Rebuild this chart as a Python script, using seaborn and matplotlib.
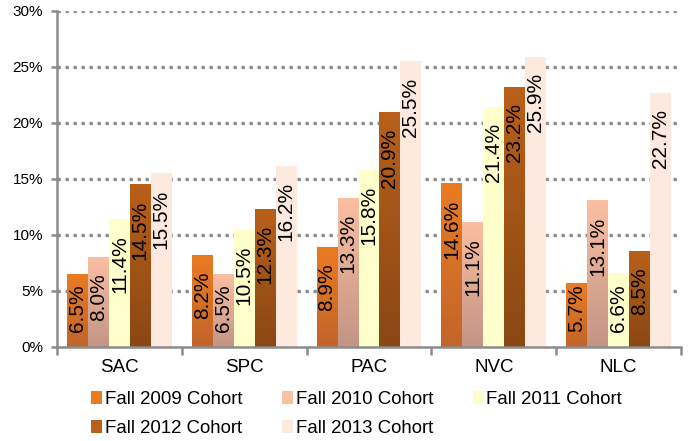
import numpy as np
import pandas as pd
import seaborn as sns
from matplotlib import pyplot as plt
from matplotlib.colors import LinearSegmentedColormap
from matplotlib.patches import Patch
from matplotlib.ticker import FixedLocator, PercentFormatter

colleges = ["SAC", "SPC", "PAC", "NVC", "NLC"]
cohorts = ["Fall 2009 Cohort", "Fall 2010 Cohort", "Fall 2011 Cohort",
           "Fall 2012 Cohort", "Fall 2013 Cohort"]
fall_2009 = [6.5, 8.2, 8.9, 14.6, 5.7]
fall_2010 = [8.0, 6.5, 13.3, 11.1, 13.1]
fall_2011 = [11.4, 10.5, 15.8, 21.4, 6.6]
fall_2012 = [14.5, 12.3, 20.9, 23.2, 8.5]
fall_2013 = [15.5, 16.2, 25.5, 25.9, 22.7]
y_ticks = [0, 5, 10, 15, 20, 25, 30]

# (top colour, bottom colour) per cohort, flat ones have the same twice
fills = [("#EA7B22", "#C2652A"),
         ("#FBBFA2", "#C39484"),
         ("#FFFFCC", "#FFFFCC"),
         ("#B9601A", "#8A4714"),
         ("#FDE9DD", "#FDE9DD")]

df = pd.DataFrame({
    "college": colleges * 5,
    "cohort": [c for c in cohorts for _ in colleges],
    "rate": fall_2009 + fall_2010 + fall_2011 + fall_2012 + fall_2013,
})

plt.rcParams["font.family"] = ["Liberation Sans", "DejaVu Sans"]
grey = "#8C8C8C"

fig = plt.figure(figsize=(6.88, 4.41), dpi=100)
ax = fig.add_axes([57 / 688, 1 - 347 / 441, 624 / 688, 336 / 441])

sns.barplot(data=df, x="college", y="rate", hue="cohort", order=colleges,
            hue_order=cohorts, palette=[f[0] for f in fills], saturation=1,
            width=0.84, linewidth=0, legend=False, ax=ax, zorder=2)

ax.set_xlim(-0.5, 4.5)
ax.set_ylim(0, 30)

# gradient fills clipped to each bar
ramp = np.linspace(0, 1, 256).reshape(-1, 1)
for cont, (top, bottom) in zip(ax.containers, fills):
    if top == bottom:
        continue
    cmap = LinearSegmentedColormap.from_list("g", [bottom, top])
    for bar in cont:
        x0, w, h = bar.get_x(), bar.get_width(), bar.get_height()
        ax.imshow(ramp, cmap=cmap, origin="lower", aspect="auto",
                  extent=[x0, x0 + w, 0, h], zorder=2.1, clip_path=bar)
ax.set_xlim(-0.5, 4.5)
ax.set_ylim(0, 30)

# value labels: 16 px below the bar end, but kept 15 px above the baseline
fig.canvas.draw()
renderer = fig.canvas.get_renderer()
base_px = ax.transData.transform((0, 0))[1]
for cont in ax.containers:
    for bar in cont:
        h = bar.get_height()
        xc = bar.get_x() + bar.get_width() / 2
        t = ax.annotate(f"{h:.1f}%", (xc, h), xytext=(0, -16),
                        textcoords="offset pixels", rotation=90,
                        ha="center", va="top", fontsize=15, zorder=3)
        bb = t.get_window_extent(renderer)
        if bb.y0 < base_px + 15:
            top_px = ax.transData.transform((0, h))[1]
            shift = (base_px + 15) - bb.y0
            t.set_position((0, -16 + min(shift, 16)))

# axes styling
ax.set_xlabel("")
ax.set_ylabel("")
ax.yaxis.set_major_locator(FixedLocator(y_ticks))
ax.yaxis.set_major_formatter(PercentFormatter(decimals=0))
for y in y_ticks[1:]:
    ax.axhline(y, color=grey, lw=2.4, ls=(0, (1, 1.4)), zorder=1)

for s in ["top", "right"]:
    ax.spines[s].set_visible(False)
for s in ["left", "bottom"]:
    ax.spines[s].set_color(grey)
    ax.spines[s].set_linewidth(1.8)
ax.spines["bottom"].set_zorder(4)

ax.tick_params(axis="y", length=4, width=1.8, color=grey, labelsize=11, pad=6)
ax.tick_params(axis="x", which="major", length=0, labelsize=13.5, pad=9)
ax.xaxis.set_minor_locator(FixedLocator(np.arange(-0.5, 5, 1)))
ax.tick_params(axis="x", which="minor", length=6, width=1.8, color=grey)

# legend: two rows, three columns
handles = [Patch(facecolor=f[0], edgecolor="none") for f in fills]
order = [0, 3, 1, 4, 2]
fig.legend([handles[i] for i in order], [cohorts[i] for i in order],
           loc="upper left", bbox_to_anchor=(82 / 688, 1 - 382 / 441),
           ncol=3, frameon=False, fontsize=13.4, borderpad=0,
           handlelength=0.6, handleheight=0.7, handletextpad=0.12,
           columnspacing=2.15, labelspacing=0.62)

fig.savefig("out.png", dpi=100)
